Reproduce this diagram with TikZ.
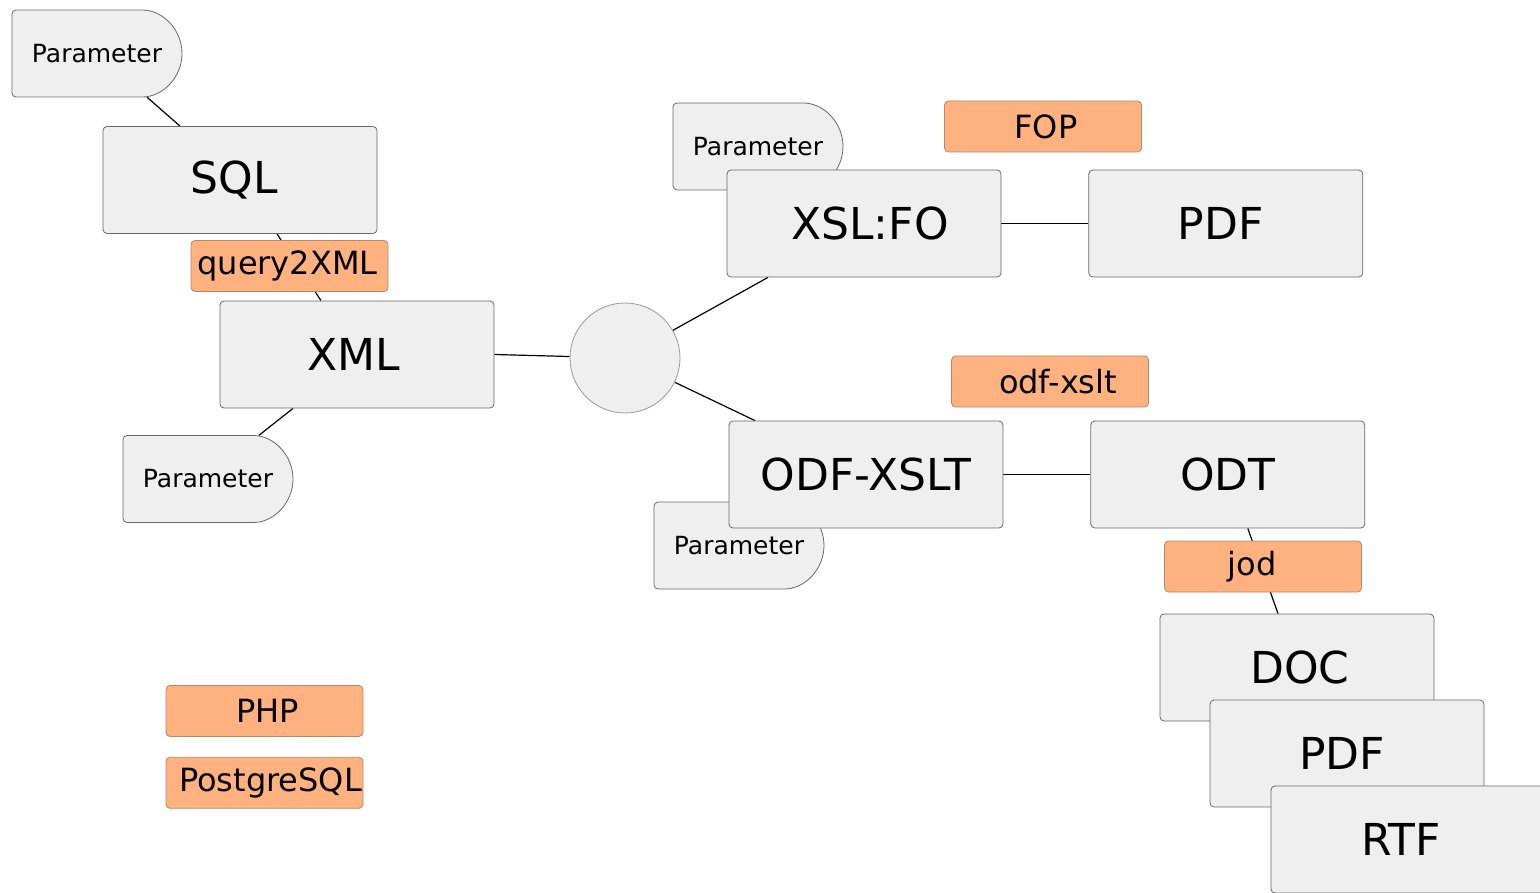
\documentclass[tikz,border=0pt]{standalone}
\usepackage{fontspec}
\setmainfont{DejaVu Sans}
\usetikzlibrary{positioning,backgrounds}

\definecolor{boxgray}{RGB}{239,239,239}
\definecolor{boxline}{RGB}{105,105,105}
\definecolor{toolfill}{RGB}{255,178,127}
\definecolor{toolline}{RGB}{185,135,100}

\tikzset{
  fmt/.style={draw=boxline, fill=boxgray, rounded corners=4pt, line width=0.8pt,
    minimum width=274pt, minimum height=107pt, inner sep=0pt,
    font=\fontsize{44}{50}\selectfont},
  tool/.style={draw=toolline, fill=toolfill, rounded corners=4pt, line width=0.8pt,
    minimum width=197pt, minimum height=51pt, inner sep=0pt,
    font=\fontsize{32}{38}\selectfont},
  hub/.style={circle, draw=gray!80, fill=boxgray, line width=0.8pt,
    minimum size=110pt, inner sep=0pt},
  link/.style={draw=black, line width=1.2pt},
  % push the label a little off the middle
  padl/.style={execute at begin node={\hspace*{#1}}},
  padr/.style={execute at end node={\hspace*{#1}}},
  param/.pic={
    \filldraw[draw=boxline, fill=boxgray, line width=0.8pt, rounded corners=4pt]
      (-85,0) -- (-85,43.5) -- (41.5,43.5)
      arc[start angle=90, end angle=-90, radius=43.5] -- (-85,-43.5) -- cycle;
    \node[minimum width=170pt, minimum height=87pt, inner sep=0pt,
      font=\fontsize{25}{30}\selectfont] (-box) {Parameter};
  }
}

\begin{document}
\begin{tikzpicture}[x=1pt, y=1pt]
                
                \useasboundingbox (0,0) rectangle (1540,-893);
                
                % database side
                \pic (psql) at (97,-53.5) {param};
                \node[fmt, padr=12pt] (sql) at (240,-180) {SQL};
                \node[fmt, padr=6pt] (xml) at (357,-354.5) {XML};
                \node[tool, padr=4pt] (qx) at (289.5,-266) {query2XML};
                \pic (pxml) at (208,-479) {param};
                \node[hub] (hub) at (625,-358) {};
                
                \node[tool, padl=6pt] (php) at (264.5,-711) {PHP};
                \node[tool, padl=12pt, below=20pt of php] (pg) {PostgreSQL};
                
                % FO branch
                \pic (pxsl) at (758,-146.5) {param};
                \node[fmt, padl=12pt] (xslfo) at (864,-223.5) {XSL:FO};
                \node[fmt, padr=10pt, right=87pt of xslfo] (pdf) {PDF};
                \node[tool, padl=6pt] (fop) at (1043,-126.5) {FOP};
                
                % ODF branch
                \node[tool, padl=16pt] (ox) at (1050,-381.5) {odf-xslt};
                \pic (podf) at (739,-545.5) {param};
                \node[fmt] (odf) at (866,-474.5) {ODF-XSLT};
                \node[fmt, right=87pt of odf] (odt) {ODT};
                \node[fmt, padl=6pt] (doc) at (1297,-667.5) {DOC};
                \node[fmt, padr=10pt] (pdfb) at (1347,-753.5) {PDF};
                \node[fmt, padr=14pt] (rtf) at (1408,-839.5) {RTF};
                \node[tool, padr=22pt] (jod) at (1263,-566.5) {jod};
                
                
                \begin{scope}[on background layer]
                  \draw[link] ([xshift=50pt]psql-box.south) -- ([xshift=-60pt]sql.north); %
                  \draw[link] ([xshift=37pt]sql.south) -- ([xshift=-36pt]xml.north); %
                  \draw[link] ([xshift=-64pt]xml.south) -- ([xshift=51pt]pxml-box.north); %
                  \draw[link] (xml.east) -- (hub); %
                  \draw[link] (hub.30) -- ([xshift=-96pt]xslfo.south); %
                  \draw[link] (hub.-26) -- ([xshift=-111pt]odf.north); %
                  \draw[link] (xslfo) -- (pdf); %
                  \draw[link] (odf) -- (odt); %
                  \draw[link] ([xshift=20pt]odt.south) -- ([xshift=-19pt]doc.north); %
                \end{scope}
                
\end{tikzpicture}
\end{document}
